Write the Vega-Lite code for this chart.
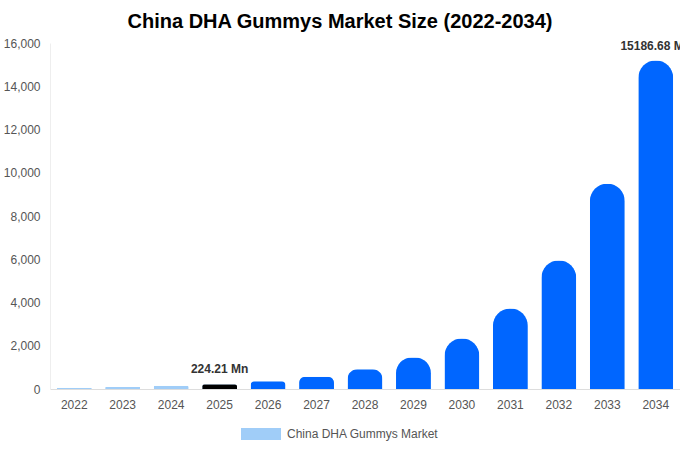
{
  "$schema": "https://vega.github.io/schema/vega-lite/v6.json",
  "width": 630,
  "height": 346,
  "autosize": {"type": "none"},
  "padding": {"left": 50, "top": 43, "right": 0, "bottom": 61},
  "background": "white",
  "title": {
    "text": "China DHA Gummys Market Size (2022-2034)",
    "font": "Liberation Sans",
    "fontSize": 20,
    "fontWeight": "bold",
    "color": "#000000",
    "anchor": "middle",
    "dx": -25,
    "offset": 5
  },
  "config": {
    "view": {"stroke": null},
    "font": "Liberation Sans"
  },
  "data": {
    "values": [
      {"year": "2022", "value": 60, "series": "China DHA Gummys Market"},
      {"year": "2023", "value": 95, "series": "China DHA Gummys Market"},
      {"year": "2024", "value": 145, "series": "China DHA Gummys Market"},
      {"year": "2025", "value": 224.21, "series": "China DHA Gummys Market"},
      {"year": "2026", "value": 358, "series": "China DHA Gummys Market"},
      {"year": "2027", "value": 572, "series": "China DHA Gummys Market"},
      {"year": "2028", "value": 914, "series": "China DHA Gummys Market"},
      {"year": "2029", "value": 1459, "series": "China DHA Gummys Market"},
      {"year": "2030", "value": 2330, "series": "China DHA Gummys Market"},
      {"year": "2031", "value": 3722, "series": "China DHA Gummys Market"},
      {"year": "2032", "value": 5944, "series": "China DHA Gummys Market"},
      {"year": "2033", "value": 9493, "series": "China DHA Gummys Market"},
      {"year": "2034", "value": 15186.68, "series": "China DHA Gummys Market"}
    ]
  },
  "encoding": {
    "x": {
      "field": "year",
      "type": "ordinal",
      "scale": {"paddingInner": 0.28, "paddingOuter": 0.14},
      "axis": {
        "title": null,
        "labelAngle": 0,
        "labelFontSize": 12,
        "labelColor": "#555555",
        "labelPadding": 10,
        "ticks": false,
        "domainColor": "#dddddd",
        "grid": false
      }
    },
    "y": {
      "field": "value",
      "type": "quantitative",
      "scale": {"domain": [0, 16000], "nice": false},
      "axis": {
        "title": null,
        "values": [0, 2000, 4000, 6000, 8000, 10000, 12000, 14000, 16000],
        "format": ",.0f",
        "labelFontSize": 12,
        "labelColor": "#555555",
        "labelPadding": 10,
        "ticks": false,
        "grid": false,
        "domainColor": "#eeeeee"
      }
    }
  },
  "layer": [
    {
      "mark": {"type": "bar", "cornerRadiusTopLeft": 17.5, "cornerRadiusTopRight": 17.5},
      "encoding": {
        "color": {
          "field": "series",
          "type": "nominal",
          "scale": {"range": ["#a0cdf8"]},
          "legend": {
            "title": null,
            "orient": "none",
            "legendX": 191,
            "legendY": 371,
            "symbolType": "M-1,-0.3H1V0.3H-1Z",
            "symbolSize": 1600,
            "symbolStrokeWidth": 0,
            "symbolOpacity": 1,
            "labelFontSize": 12,
            "labelColor": "#555555",
            "labelOffset": 6
          }
        }
      }
    },
    {
      "mark": {"type": "bar", "cornerRadiusTopLeft": 17.5, "cornerRadiusTopRight": 17.5},
      "encoding": {
        "fill": {
          "condition": [
            {"test": "datum.year == '2025'", "value": "#000000"},
            {"test": "toNumber(datum.year) > 2025", "value": "#0066ff"}
          ],
          "value": "#a0cdf8"
        }
      }
    },
    {
      "transform": [
        {"filter": "datum.year == '2025' || datum.year == '2034'"},
        {"calculate": "format(datum.value, '.2f') + ' Mn'", "as": "label"}
      ],
      "mark": {"type": "text", "baseline": "bottom", "dy": -8, "fontSize": 12, "fontWeight": "bold", "color": "#333333"},
      "encoding": {"text": {"field": "label"}}
    }
  ]
}
